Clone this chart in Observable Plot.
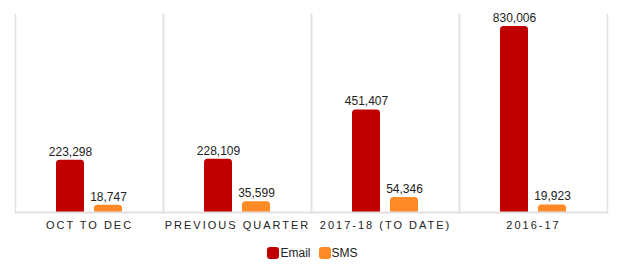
<!DOCTYPE html>
<html>
<head>
<meta charset="utf-8">
<script src="https://cdn.jsdelivr.net/npm/d3@7"></script>
<script src="https://cdn.jsdelivr.net/npm/@observablehq/plot@0.6"></script>
<style>
  html, body { margin: 0; padding: 0; background: #fff; }
  body { width: 620px; height: 265px; overflow: hidden; font-family: "Liberation Sans", Arial, sans-serif; }
  #chart svg { display: block; }
  #chart g[aria-label="fx-axis tick label"] text { letter-spacing: 2px; }
  .legend { display: flex; justify-content: center; align-items: center; gap: 8px;
            font-size: 12px; color: #222; margin-top: 11px; padding-left: 5px; }
  .legend span { display: inline-flex; align-items: center; }
  .legend i { display: inline-block; width: 12px; height: 12px; border-radius: 3px; margin-right: 1px; }
</style>
</head>
<body>
<div id="chart"></div>
<div class="legend" id="legend"></div>
<script>
// Periods shown along the bottom
const periods = ["OCT TO DEC", "PREVIOUS QUARTER", "2017-18 (TO DATE)", "2016-17"];
// Channels and their colours
const channels = ["Email", "SMS"];
const colors = ["#c00000", "#ff8a26"];
// Counts per period
const emailCounts = [223298, 228109, 451407, 830006];
const smsCounts = [18747, 35599, 54346, 19923];

const rows = periods.flatMap((p, i) => [
  {period: p, channel: "Email", value: emailCounts[i]},
  {period: p, channel: "SMS", value: smsCounts[i]}
]);

const grid = "#e2e2e2";
// bars sit on a baseline drawn a few pixels below the zero of the value scale
const foot = 3;

const chart = Plot.plot({
  width: 620,
  height: 235,
  marginTop: 14,
  marginLeft: 14,
  marginRight: 12,
  marginBottom: 26,
  style: {fontFamily: "'Liberation Sans', Arial, sans-serif", color: "#222", background: "#fff"},
  fx: {domain: periods, padding: 0, label: null, axis: "bottom", tickSize: 0, tickPadding: 12},
  x: {domain: channels, paddingInner: 0.256, paddingOuter: 1.03, axis: null},
  y: {domain: [0, 884400], axis: null},
  color: {domain: channels, range: colors},
  marks: [
    Plot.frame({anchor: "left", stroke: grid, strokeWidth: 1.5, insetBottom: -foot}),
    Plot.frame({anchor: "right", stroke: grid, strokeWidth: 1.5, insetBottom: -foot}),
    // rounded bars, with a square-cornered lower half so only the top is rounded
    Plot.barY(rows, {fx: "period", x: "channel", y: "value", fill: "channel", rx: 3.5, insetBottom: -foot}),
    Plot.barY(rows, {fx: "period", x: "channel", y1: 0, y2: d => d.value / 2, fill: "channel", insetBottom: -foot}),
    Plot.ruleY([0], {stroke: grid, strokeWidth: 2, dy: foot}),
    Plot.text(rows, {fx: "period", x: "channel", y: "value", text: d => d3.format(",")(d.value),
      dy: -8.5, fontSize: 12, fill: "#222"})
  ]
});
chart.querySelectorAll('g[aria-label="fx-axis tick label"] text').forEach(t => {
  t.setAttribute("font-size", 11);
});
document.getElementById("chart").append(chart);

const legend = document.getElementById("legend");
channels.forEach((c, i) => {
  const s = document.createElement("span");
  s.innerHTML = `<i style="background:${colors[i]}"></i>${c}`;
  legend.append(s);
});
</script>
</body>
</html>
